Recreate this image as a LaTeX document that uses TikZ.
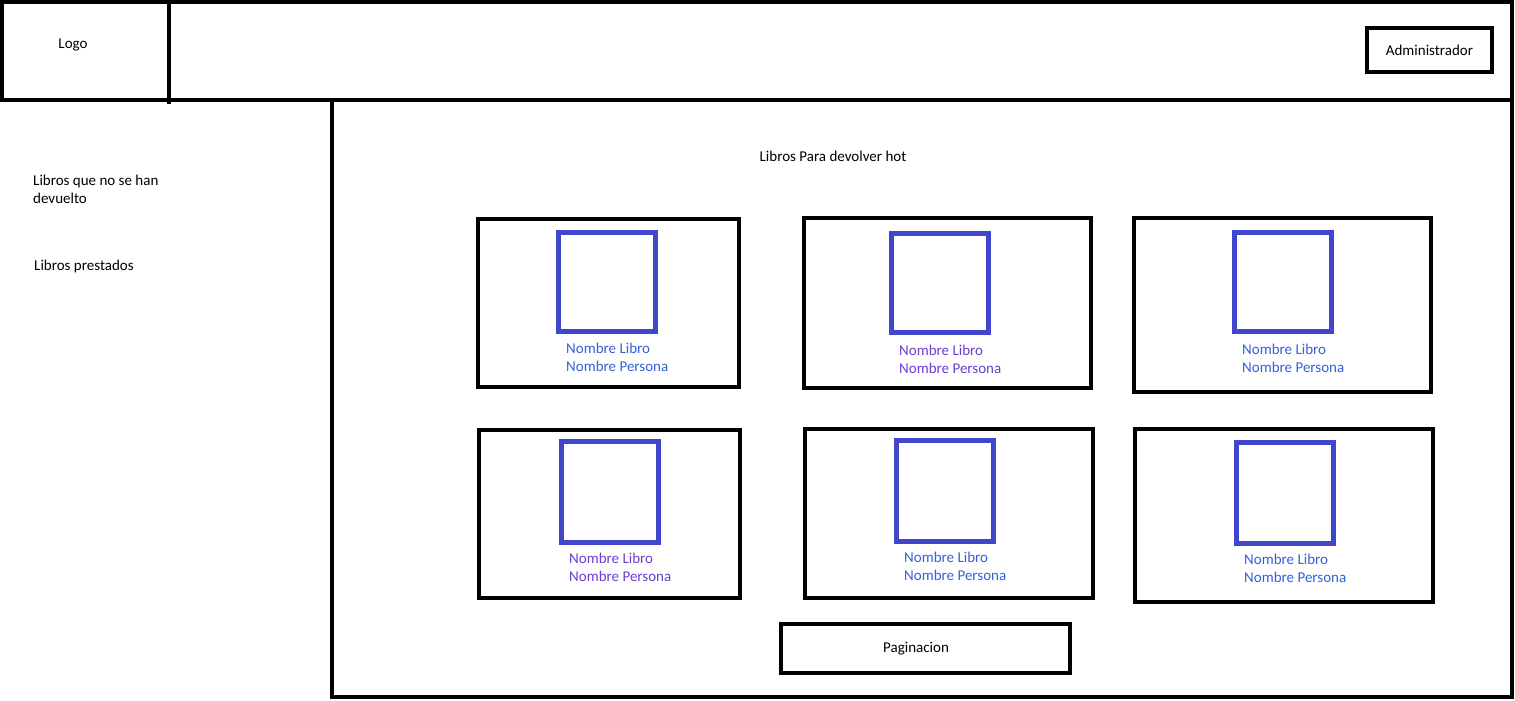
\documentclass[tikz,border=0pt]{standalone}
\usepackage{fontspec}
\setmainfont{Carlito}
\definecolor{sqblue}{HTML}{4147CC}
\definecolor{txtblue}{HTML}{3560D8}
\definecolor{txtpurple}{HTML}{6A3FD2}
\begin{document}
\begin{tikzpicture}[x=1pt,y=-1pt,
  box/.style={draw=black,line width=4pt,inner sep=0pt,outer sep=0pt},
  sq/.style={draw=sqblue,line width=5pt,inner sep=0pt,outer sep=0pt,minimum width=97pt,minimum height=99pt},
  lbl/.style={font=\fontsize{15}{18}\selectfont,inner sep=0pt},
  cardtxt/.style={lbl,align=left,anchor=north west}]
\useasboundingbox (0,0) rectangle (1515,701);
\fill[white] (0,0) rectangle (1515,701);
% header
\node[box,minimum width=1510pt,minimum height=98pt,anchor=north west] (header) at (2,2) {};
\coordinate (divtop) at (169,2);
\coordinate (divbot) at (169,104);
\draw[line width=4pt] (divtop) -- (divbot);
\node[lbl] (logo) at (73,45) {Logo};
\node[box,minimum width=125pt,minimum height=44pt] (admin) at (1429.5,50) {};
\node[lbl] at (admin.center) {Administrador};
% main area
\node[box,minimum width=1180pt,minimum height=597pt,anchor=north west] (main) at (332,100) {};
% sidebar
\node[lbl,align=left,anchor=north west] (nodev) at (33,175) {Libros que no se han\\devuelto};
\node[lbl,anchor=north west] (prest) at (34,260) {Libros prestados};
\node[lbl] (title) at (833,156) {Libros Para devolver hot};
% cards row 1
\node[box,minimum width=261pt,minimum height=168pt,anchor=north west] (c1) at (478,219) {};
\node[box,minimum width=287pt,minimum height=170pt,anchor=north west] (c2) at (804,218) {};
\node[box,minimum width=297pt,minimum height=174pt,anchor=north west] (c3) at (1134,218) {};
% cards row 2
\node[box,minimum width=261pt,minimum height=168pt,anchor=north west] (c4) at (479,430) {};
\node[box,minimum width=288pt,minimum height=169pt,anchor=north west] (c5) at (805,429) {};
\node[box,minimum width=298pt,minimum height=173pt,anchor=north west] (c6) at (1135,429) {};
% blue squares
\node[sq,anchor=north west] (s1) at (558,232) {};
\node[sq,anchor=north west] (s2) at (891,233) {};
\node[sq,anchor=north west] (s3) at (1234,232) {};
\node[sq,anchor=north west,minimum height=101pt] (s4) at (561,441) {};
\node[sq,anchor=north west,minimum height=101pt] (s5) at (896,440) {};
\node[sq,anchor=north west,minimum height=101pt] (s6) at (1236,442) {};
% card texts
\node[cardtxt,text=txtblue] (t1) at (566,343) {Nombre Libro\\Nombre Persona};
\node[cardtxt,text=txtpurple] (t2) at (899,345) {Nombre Libro\\Nombre Persona};
\node[cardtxt,text=txtblue] (t3) at (1242,344) {Nombre Libro\\Nombre Persona};
\node[cardtxt,text=txtpurple] (t4) at (569,553) {Nombre Libro\\Nombre Persona};
\node[cardtxt,text=txtblue] (t5) at (904,552) {Nombre Libro\\Nombre Persona};
\node[cardtxt,text=txtblue] (t6) at (1244,554) {Nombre Libro\\Nombre Persona};
% pagination
\node[box,minimum width=289pt,minimum height=49pt,anchor=north west] (pag) at (781,624) {};
\node[lbl] at (916,649) {Paginacion};
\end{tikzpicture}
\end{document}
